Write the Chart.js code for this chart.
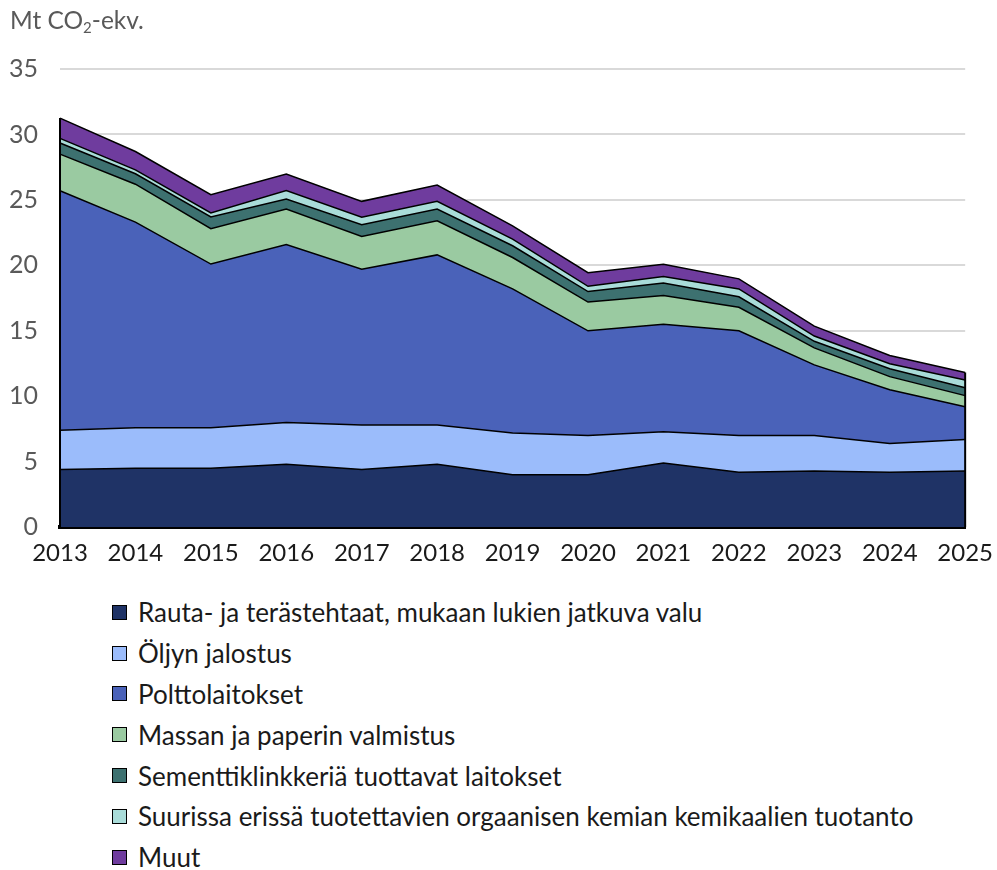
<!DOCTYPE html>
<html>
<head>
<meta charset="utf-8">
<script src="https://cdn.jsdelivr.net/npm/chart.js@4.4.1/dist/chart.umd.min.js"></script>
<style>
  body { margin: 0; background: #fff; font-family: Lato, "Open Sans", sans-serif; }
  #wrap { position: relative; width: 997px; height: 870px; }
  #unit { position: absolute; left: 10px; top: 5px; font-size: 24.5px; color: #595959; }
  #unit sub { font-size: 15px; vertical-align: -4px; }
  #chartBox { position: absolute; left: 0; top: 0; width: 997px; height: 582px; }
  #legend { position: absolute; left: 112px; top: 592px; margin: 0; padding: 0; list-style: none; }
  #legend li { height: 40.8px; display: flex; align-items: center; font-size: 26px; color: #1a1a1a; }
  #legend .box { width: 15px; height: 15px; border: 1px solid #000; margin-right: 11px; box-sizing: border-box; }
</style>
</head>
<body>
<div id="wrap">
  <div id="chartBox"><canvas id="emissions-chart"></canvas></div>
  <div id="unit">Mt CO<sub>2</sub>-ekv.</div>
  <ul id="legend"></ul>
</div>
<script>
var years = ['2013','2014','2015','2016','2017','2018','2019','2020','2021','2022','2023','2024','2025'];
var yTicks = [0, 5, 10, 15, 20, 25, 30, 35];

var seriesNames = [
  'Rauta- ja terästehtaat, mukaan lukien jatkuva valu',
  'Öljyn jalostus',
  'Polttolaitokset',
  'Massan ja paperin valmistus',
  'Sementtiklinkkeriä tuottavat laitokset',
  'Suurissa erissä tuotettavien orgaanisen kemian kemikaalien tuotanto',
  'Muut'
];

var rautaTeras = [4.4, 4.5, 4.5, 4.8, 4.4, 4.8, 4.0, 4.0, 4.9, 4.2, 4.3, 4.2, 4.3];
var oljynJalostus = [3.0, 3.1, 3.1, 3.2, 3.4, 3.0, 3.2, 3.0, 2.4, 2.8, 2.7, 2.2, 2.4];
var polttolaitokset = [18.3, 15.7, 12.5, 13.6, 11.9, 13.0, 11.0, 8.0, 8.2, 8.0, 5.4, 4.1, 2.5];
var massaPaperi = [2.8, 2.9, 2.7, 2.7, 2.5, 2.6, 2.4, 2.2, 2.2, 1.8, 1.3, 1.0, 0.85];
var sementti = [0.85, 0.8, 0.9, 0.77, 0.9, 0.9, 0.9, 0.8, 0.95, 0.8, 0.5, 0.6, 0.6];
var orgKemia = [0.35, 0.3, 0.3, 0.64, 0.57, 0.59, 0.5, 0.4, 0.5, 0.6, 0.4, 0.38, 0.59];
var muut = [1.55, 1.4, 1.4, 1.27, 1.22, 1.25, 1.02, 1.04, 0.94, 0.77, 0.76, 0.63, 0.58];

var seriesData = [rautaTeras, oljynJalostus, polttolaitokset, massaPaperi, sementti, orgKemia, muut];
var seriesColors = ['#1f3366', '#9bbcfb', '#4a62b9', '#9acaa1', '#3d7170', '#a9dcd9', '#6f3c9e'];

var datasets = seriesData.map(function (d, i) {
  return {
    label: seriesNames[i],
    data: d,
    backgroundColor: seriesColors[i],
    borderColor: '#000',
    borderWidth: 1.5,
    pointRadius: 0,
    tension: 0,
    fill: i === 0 ? 'origin' : '-1'
  };
});

// black vertical edges at the ends of the stack
var edgeLines = {
  id: 'edgeLines',
  afterDatasetsDraw: function (chart) {
    var ctx = chart.ctx, x = chart.scales.x, y = chart.scales.y;
    var last = years.length - 1;
    var totalAt = function (idx) {
      return seriesData.reduce(function (s, d) { return s + d[idx]; }, 0);
    };
    ctx.save();
    ctx.strokeStyle = '#000';
    ctx.lineWidth = 2;
    [0, last].forEach(function (idx) {
      var px = x.getPixelForValue(idx);
      ctx.beginPath();
      ctx.moveTo(px, y.getPixelForValue(0));
      ctx.lineTo(px, y.getPixelForValue(totalAt(idx)));
      ctx.stroke();
    });
    ctx.restore();
  }
};

var config = {
  type: 'line',
  data: { labels: years, datasets: datasets },
  plugins: [edgeLines],
  options: {
    responsive: true,
    maintainAspectRatio: false,
    animation: false,
    layout: { padding: { top: 69, right: 8, left: 0, bottom: 10 } },
    plugins: {
      legend: { display: false },
      tooltip: { enabled: false }
    },
    scales: {
      x: {
        offset: false,
        grid: { display: false },
        border: { display: true, color: '#000', width: 4 },
        ticks: { color: '#1a1a1a', font: { family: 'Lato', size: 24 }, padding: 4, maxRotation: 0 }
      },
      y: {
        stacked: true,
        min: 0,
        max: 35,
        afterBuildTicks: function (axis) {
          axis.ticks = yTicks.map(function (v) { return { value: v }; });
        },
        afterFit: function (axis) { axis.width = 60; },
        grid: { color: '#d9d9d9', lineWidth: 2, drawTicks: false },
        border: { display: false },
        ticks: { color: '#595959', font: { family: 'Lato', size: 25 }, padding: 22 }
      }
    }
  }
};

window.onload = function () {
  var ctx = document.getElementById('emissions-chart').getContext('2d');
  window.emissionsChart = new Chart(ctx, config);
  var legend = document.getElementById('legend');
  datasets.forEach(function (ds) {
    var li = document.createElement('li');
    var box = document.createElement('span');
    box.className = 'box';
    box.style.background = ds.backgroundColor;
    li.appendChild(box);
    li.appendChild(document.createTextNode(ds.label));
    legend.appendChild(li);
  });
};
</script>
</body>
</html>
